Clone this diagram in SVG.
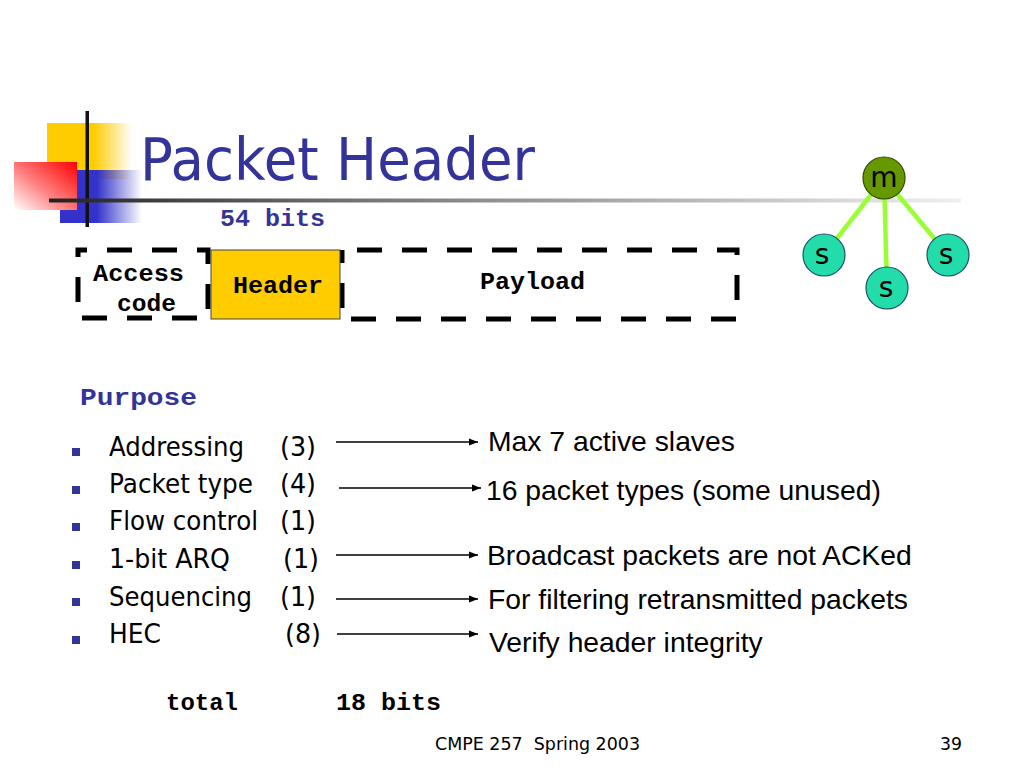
<svg xmlns="http://www.w3.org/2000/svg" width="1024" height="768" viewBox="0 0 1024 768">
<defs>
  <linearGradient id="gYellow" x1="0" y1="0" x2="1" y2="0">
    <stop offset="0" stop-color="#FFCC00"/><stop offset="0.55" stop-color="#FFCC00"/><stop offset="1" stop-color="#FFCC00" stop-opacity="0"/>
  </linearGradient>
  <linearGradient id="gBlue" x1="0" y1="0" x2="1" y2="0">
    <stop offset="0" stop-color="#3333CC"/><stop offset="0.45" stop-color="#3333CC"/><stop offset="1" stop-color="#3333CC" stop-opacity="0"/>
  </linearGradient>
  <linearGradient id="gRed" x1="1" y1="0" x2="0" y2="1">
    <stop offset="0" stop-color="#FF0000"/><stop offset="0.55" stop-color="#FF8080"/><stop offset="1" stop-color="#FFFFFF"/>
  </linearGradient>
  <linearGradient id="gLine" x1="0" y1="0" x2="1" y2="0">
    <stop offset="0" stop-color="#222222"/><stop offset="0.35" stop-color="#777777"/><stop offset="1" stop-color="#F0F0F0"/>
  </linearGradient>
  <marker id="arr" markerWidth="10" markerHeight="8" refX="9" refY="4" orient="auto" markerUnits="userSpaceOnUse">
    <path d="M0,0.5 L9,4 L0,7.5 Z" fill="#000"/>
  </marker>
  <style>
    .title{font-family:"DejaVu Sans","Liberation Sans",sans-serif;font-size:58px;fill:#333399}
    .mono{font-family:"Liberation Mono","DejaVu Sans Mono",monospace;font-weight:bold;font-size:23px;fill:#000}
    .monoblue{font-family:"Liberation Mono","DejaVu Sans Mono",monospace;font-weight:bold;font-size:23px;fill:#333399}
    .item{font-family:"DejaVu Sans","Liberation Sans",sans-serif;font-size:27px;fill:#000}
    .desc{font-family:"Liberation Sans",Arial,sans-serif;font-size:28.3px;fill:#000}
    .foot{font-family:"DejaVu Sans","Liberation Sans",sans-serif;font-size:18px;fill:#000;white-space:pre}
    .dash{fill:none;stroke:#000;stroke-width:5;stroke-dasharray:25 20}
    .bul{fill:#333399}
    .arrow{stroke:#000;stroke-width:1.5;fill:none;marker-end:url(#arr)}
    .edge{stroke:#99FF33;stroke-width:4.5}
    .snode{fill:#22DDAA;stroke:#1D4E6B;stroke-width:1.2}
    .mnode{fill:#669900;stroke:#2F4A00;stroke-width:1.2}
    .letter{font-family:"DejaVu Sans","Liberation Sans",sans-serif;font-size:28px;fill:#000;text-anchor:middle}
  </style>
</defs>
<rect width="1024" height="768" fill="#FFFFFF"/>

<g id="logo">
  <rect x="47" y="123" width="85" height="56" fill="url(#gYellow)"/>
  <rect x="60" y="170" width="82" height="53" fill="url(#gBlue)"/>
  <rect x="14" y="162" width="63" height="48" fill="url(#gRed)"/>
  <rect x="85.5" y="111" width="3.5" height="116" fill="#111"/>
</g>
<g id="title-rule">
  <rect x="49" y="198.5" width="912" height="4" fill="url(#gLine)"/>
</g>
<g id="title">
  <text class="title" x="140" y="180" textLength="395" lengthAdjust="spacingAndGlyphs">Packet Header</text>
</g>

<g id="bits54"><text class="monoblue" x="220" y="226" textLength="105" lengthAdjust="spacingAndGlyphs">54 bits</text></g>

<g id="access-code">
  <path class="dash" style="stroke-dashoffset:16" d="M78,250 H208 V318 H78 Z"/>
  <text class="mono" x="93" y="281" textLength="91" lengthAdjust="spacingAndGlyphs">Access</text>
  <text class="mono" x="117" y="311" textLength="59" lengthAdjust="spacingAndGlyphs">code</text>
</g>
<g id="payload">
  <path class="dash" style="stroke-dashoffset:30" d="M342,250 H737 V319 H342 Z"/>
  <text class="mono" x="480" y="289" textLength="105" lengthAdjust="spacingAndGlyphs">Payload</text>
</g>
<g id="header">
  <rect x="211" y="250" width="129" height="69" fill="#FFCC00" stroke="#444" stroke-width="1"/>
  <text class="mono" x="233" y="293" textLength="90" lengthAdjust="spacingAndGlyphs">Header</text>
</g>

<g id="connectors">
  <line class="edge" x1="884" y1="178" x2="824" y2="255"/>
  <line class="edge" x1="884" y1="178" x2="887" y2="288"/>
  <line class="edge" x1="884" y1="178" x2="948" y2="255"/>
  <line class="arrow" x1="336" y1="442" x2="478" y2="442"/>
  <line class="arrow" x1="339" y1="488" x2="481" y2="488"/>
  <line class="arrow" x1="336" y1="555" x2="478" y2="555"/>
  <line class="arrow" x1="336" y1="599" x2="478" y2="599"/>
  <line class="arrow" x1="337" y1="634" x2="478" y2="634"/>
</g>

<g id="node-m"><circle class="mnode" cx="884" cy="178" r="21"/><text class="letter" x="884" y="187">m</text></g>
<g id="node-s1"><circle class="snode" cx="824" cy="255" r="21"/><text class="letter" x="822" y="264">s</text></g>
<g id="node-s2"><circle class="snode" cx="887" cy="288" r="21"/><text class="letter" x="886" y="297">s</text></g>
<g id="node-s3"><circle class="snode" cx="948" cy="255" r="21"/><text class="letter" x="946" y="264">s</text></g>

<g id="purpose"><text class="monoblue" x="80" y="405" textLength="117" lengthAdjust="spacingAndGlyphs">Purpose</text></g>

<g id="item-addressing">
  <rect class="bul" x="72" y="448" width="8" height="8"/>
  <text class="item" x="109" y="456" textLength="135" lengthAdjust="spacingAndGlyphs">Addressing</text>
  <text class="item" x="280" y="456" textLength="36" lengthAdjust="spacingAndGlyphs">(3)</text>
</g>
<g id="item-packettype">
  <rect class="bul" x="72" y="486" width="8" height="8"/>
  <text class="item" x="109" y="493" textLength="144" lengthAdjust="spacingAndGlyphs">Packet type</text>
  <text class="item" x="280" y="493" textLength="36" lengthAdjust="spacingAndGlyphs">(4)</text>
</g>
<g id="item-flow">
  <rect class="bul" x="72" y="523" width="8" height="8"/>
  <text class="item" x="109" y="530" textLength="149" lengthAdjust="spacingAndGlyphs">Flow control</text>
  <text class="item" x="280" y="530" textLength="36" lengthAdjust="spacingAndGlyphs">(1)</text>
</g>
<g id="item-arq">
  <rect class="bul" x="72" y="561" width="8" height="8"/>
  <text class="item" x="109" y="568" textLength="121" lengthAdjust="spacingAndGlyphs">1-bit ARQ</text>
  <text class="item" x="283" y="568" textLength="36" lengthAdjust="spacingAndGlyphs">(1)</text>
</g>
<g id="item-seq">
  <rect class="bul" x="72" y="598" width="8" height="8"/>
  <text class="item" x="109" y="606" textLength="143" lengthAdjust="spacingAndGlyphs">Sequencing</text>
  <text class="item" x="280" y="606" textLength="36" lengthAdjust="spacingAndGlyphs">(1)</text>
</g>
<g id="item-hec">
  <rect class="bul" x="72" y="636" width="8" height="8"/>
  <text class="item" x="109" y="643" textLength="52" lengthAdjust="spacingAndGlyphs">HEC</text>
  <text class="item" x="285" y="643" textLength="36" lengthAdjust="spacingAndGlyphs">(8)</text>
</g>

<g id="desc-1"><text class="desc" x="488" y="451">Max 7 active slaves</text></g>
<g id="desc-2"><text class="desc" x="486" y="500">16 packet types (some unused)</text></g>
<g id="desc-3"><text class="desc" x="487" y="565">Broadcast packets are not ACKed</text></g>
<g id="desc-4"><text class="desc" x="488" y="609">For filtering retransmitted packets</text></g>
<g id="desc-5"><text class="desc" x="489" y="652">Verify header integrity</text></g>

<g id="total">
  <text class="mono" x="166" y="710" textLength="72" lengthAdjust="spacingAndGlyphs">total</text>
  <text class="mono" x="336" y="710" textLength="105" lengthAdjust="spacingAndGlyphs">18 bits</text>
</g>
<g id="footer">
  <text class="foot" x="435" y="750" textLength="205" lengthAdjust="spacingAndGlyphs" xml:space="preserve">CMPE 257  Spring 2003</text>
  <text class="foot" x="940" y="750" textLength="22" lengthAdjust="spacingAndGlyphs">39</text>
</g>
</svg>
